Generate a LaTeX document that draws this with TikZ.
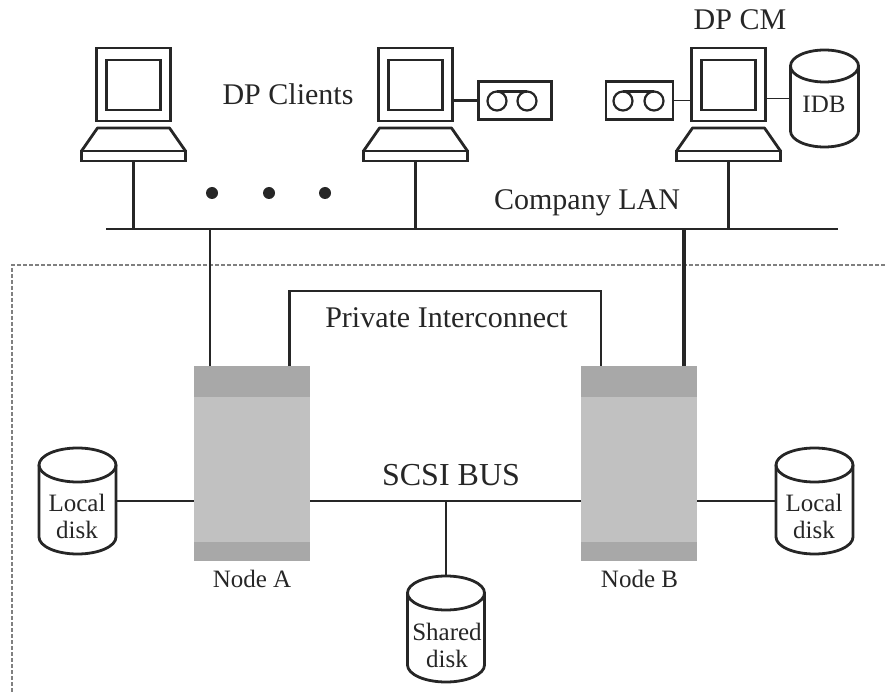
\documentclass[tikz,border=0pt]{standalone}
\usepackage{fontspec}
\setmainfont{Liberation Serif}
\newcommand{\myfs}[1]{\fontsize{#1}{#1}\selectfont}
\definecolor{serverbody}{HTML}{C1C1C1}
\definecolor{serverband}{HTML}{A8A8A8}
\tikzset{
  ink/.style={draw=black!85,line width=2.8pt},
  thinink/.style={draw=black!85,line width=2.6pt},
  hairink/.style={draw=black!85,line width=1.6pt},
  boxn/.style={ink,fill=white,rectangle,inner sep=0pt,outer sep=0pt},
  lbl/.style={inner sep=0pt,outer sep=0pt,anchor=base,text=black!85},
  big/.style={lbl,font=\myfs{30}},
  small/.style={lbl,font=\myfs{25}},
  ghost/.style={rectangle,inner sep=0pt,outer sep=0pt},
  dot/.style={circle,fill=black!85,minimum size=12pt,inner sep=0pt},
  server/.style={rectangle,fill=serverbody,inner sep=0pt,outer sep=0pt,minimum width=116pt,minimum height=195pt},
  band/.style={fill=serverband},
}
% computer: name, x of centre
\newcommand{\comp}[2]{%
  \node[boxn,minimum width=74pt,minimum height=73pt] (#1mon) at (#2,84.5) {};
  \node[boxn,minimum width=54pt,minimum height=50pt] (#1scr) at (#2,85) {};
  \node[boxn,minimum width=104pt,minimum height=10pt] (#1base) at (#2,156) {};
  \draw[ink,line join=round] (#1base.north west) -- ([xshift=16pt,yshift=23pt]#1base.north west)
     -- ([xshift=-16pt,yshift=23pt]#1base.north east) -- (#1base.north east);
}
% tape: name, centre x, width, left circle x, right circle x
\newcommand{\tape}[5]{%
  \node[boxn,minimum width=#3pt,minimum height=38pt] (#1) at (#2,100.5) {};
  \node[circle,draw=black!85,line width=2.2pt,inner sep=0pt,outer sep=0pt,minimum size=19pt] (#1a) at (#4,101) {};
  \node[circle,draw=black!85,line width=2.2pt,inner sep=0pt,outer sep=0pt,minimum size=19pt] (#1b) at (#5,101) {};
  \draw[draw=black!85,line width=2.2pt] (#1a.north) -- (#1b.north);
}
% cylinder: name, centre x, top y, bottom y, half width, half ellipse height
\newcommand{\cyl}[6]{%
  \node[ghost,minimum width=2*#5 pt,minimum height=#4pt-#3pt] (#1) at (#2,{(#3+#4)/2}) {};
  \draw[ink,line join=round]
    (#1.north west) arc[start angle=180,end angle=0,x radius=#5pt,y radius=#6pt]
    -- (#1.south east) arc[start angle=360,end angle=180,x radius=#5pt,y radius=#6pt]
    -- cycle;
  \draw[ink] (#1.north west) arc[start angle=180,end angle=360,x radius=#5pt,y radius=#6pt];
}
% server: name, centre x
\newcommand{\srv}[2]{%
  \node[server] (#1) at (#2,463.5) {};
  \fill[band] (#1.north west) rectangle ([yshift=-31pt]#1.north east);
  \fill[band] (#1.south west) rectangle ([yshift=19pt]#1.south east);
}
\begin{document}
\begin{tikzpicture}[x=1pt,y=-1pt]
\useasboundingbox (0,0) rectangle (885,692);
% dashed cluster frame
\coordinate (fa) at (885,265); \coordinate (fb) at (12,265); \coordinate (fc) at (12,692);
\draw[black!50,line width=1.1pt,dash pattern=on 4pt off 2pt] (fa) -- (fb) -- (fc);
% LAN
\coordinate (lanL) at (106,229); \coordinate (lanR) at (838,229);
\draw[ink] (lanL) -- (lanR);
% computers
\comp{ca}{133.5}
\comp{cb}{415.5}
\comp{cc}{728.5}
\draw[ink] (cabase.south) -- (cabase.south |- lanL);
\draw[ink] (cbbase.south) -- (cbbase.south |- lanL);
\draw[ink] (ccbase.south) -- (ccbase.south |- lanL);
% tapes
\tape{ta}{515}{73}{497}{527}
\tape{tb}{639.5}{67}{623}{654}
\draw[thinink] (cbmon.east |- ta.west) -- (ta.west);
\draw[hairink] (tb.east) -- (ccmon.west |- tb.east);
% IDB
\cyl{idb}{824.5}{66}{131}{34}{16}
\draw[hairink] (ccmon.east |- idb.west) -- (idb.west);
% servers
\srv{na}{252}
\srv{nb}{639}
\coordinate (naLan) at (210,366); \coordinate (naPriv) at (289.5,366);
\coordinate (nbPriv) at (601,366); \coordinate (nbLan) at (684,366);
\draw[ink] (naLan) -- (naLan |- lanL);
\draw[draw=black!85,line width=3.2pt] (nbLan) -- (nbLan |- lanL);
\coordinate (privY) at (0,291);
\draw[thinink,line join=miter] (naPriv) -- (naPriv |- privY) -- (nbPriv |- privY) -- (nbPriv);
% disks
\cyl{dl}{77.5}{465}{537}{38.5}{17}
\cyl{dr}{814.5}{465}{537}{38.5}{17}
\cyl{ds}{446}{593}{665}{38.5}{17}
\coordinate (bus) at (446,501);
\draw[thinink] (dl.east |- bus) -- (na.west |- bus);
\draw[thinink] (na.east |- bus) -- (nb.west |- bus);
\draw[thinink] (nb.east |- bus) -- (dr.west |- bus);
\coordinate (dstop) at (446,575);
\draw[thinink] (bus) -- (dstop);
% dots
\node[dot] (d1) at (212,193) {};
\node[dot] (d2) at (269,193) {};
\node[dot] (d3) at (325,193) {};
% labels
\node[big] (tclients) at (288,105) {DP Clients};
\node[big] (tcm) at (740,30) {DP CM};
\node[big] (tlan) at (587,210) {Company LAN};
\node[big] (tpriv) at (446.5,327) {Private Interconnect};
\node[lbl,font=\myfs{32}] (tscsi) at (451,485) {SCSI BUS};
\node[small] (tidb) at (824,113) {IDB};
\node[small] (tna) at (252,587) {Node A};
\node[small] (tnb) at (639.5,587) {Node B};
\node[small] (tl1) at (77,511) {Local};
\node[small] (tl2) at (77,538) {disk};
\node[small] (tr1) at (814,511) {Local};
\node[small] (tr2) at (814,538) {disk};
\node[small] (ts1) at (447,640) {Shared};
\node[small] (ts2) at (447,667) {disk};
\end{tikzpicture}
\end{document}
